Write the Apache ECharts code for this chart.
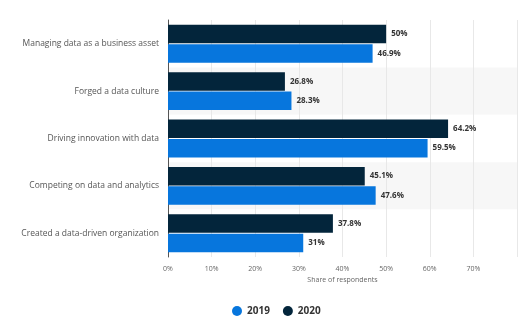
<!DOCTYPE html>
<html>
<head>
<meta charset="utf-8">
<script src="https://cdn.jsdelivr.net/npm/echarts@6/dist/echarts.min.js"></script>
<style>
  html, body { margin: 0; padding: 0; background: #fff; }
  #chart { width: 521px; height: 326px; }
</style>
</head>
<body>
<div id="chart"></div>
<script>
// Ways organizations describe their data strategy, by year
const categories = [
  'Managing data as a business asset',
  'Forged a data culture',
  'Driving innovation with data',
  'Competing on data and analytics',
  'Created a data-driven organization'
];
const values2019 = [46.9, 28.3, 59.5, 47.6, 31];
const values2020 = [50, 26.8, 64.2, 45.1, 37.8];
const xTicks = ['0%', '10%', '20%', '30%', '40%', '50%', '60%', '70%'];

const FONT = 'Open Sans';
const chart = echarts.init(document.getElementById('chart'));

const label = {
  show: true,
  position: 'right',
  distance: 5,
  fontFamily: FONT,
  fontSize: 8,
  fontWeight: 'bold',
  color: '#333',
  formatter: p => p.value + '%'
};

chart.setOption({
  animation: false,
  textStyle: { fontFamily: FONT },
  grid: { left: 168, right: 4, top: 20, bottom: 69 },
  legend: {
    data: ['2019', '2020'],
    bottom: 5,
    left: 227,
    icon: 'circle',
    itemWidth: 10,
    itemHeight: 10,
    itemGap: 13,
    textStyle: { fontFamily: FONT, fontSize: 10, fontWeight: 'bold', color: '#333' }
  },
  xAxis: {
    type: 'value',
    min: 0,
    max: 80,
    interval: 10,
    name: 'Share of respondents',
    nameLocation: 'middle',
    nameGap: 18,
    nameTextStyle: { fontFamily: FONT, fontSize: 7, color: '#666' },
    axisLine: { show: false },
    axisTick: { show: false },
    axisLabel: {
      fontFamily: FONT,
      fontSize: 7,
      color: '#666',
      margin: 8,
      formatter: v => xTicks[v / 10] || ''
    },
    splitLine: { show: true, lineStyle: { color: '#e8e8e8', width: 1 } }
  },
  yAxis: {
    type: 'category',
    data: categories,
    inverse: true,
    axisLine: { show: true, lineStyle: { color: '#555', width: 1 } },
    axisTick: { show: false },
    axisLabel: { fontFamily: FONT, fontSize: 8.5, color: '#555', margin: 9 },
    splitArea: { show: true, areaStyle: { color: ['#ffffff', '#f7f7f7'] } }
  },
  series: [
    {
      name: '2020',
      type: 'bar',
      data: values2020,
      itemStyle: { color: '#03253b' },
      barGap: '5%',
      barCategoryGap: '20%',
      label
    },
    {
      name: '2019',
      type: 'bar',
      data: values2019,
      itemStyle: { color: '#0776dd' },
      label
    }
  ]
});
</script>
</body>
</html>
